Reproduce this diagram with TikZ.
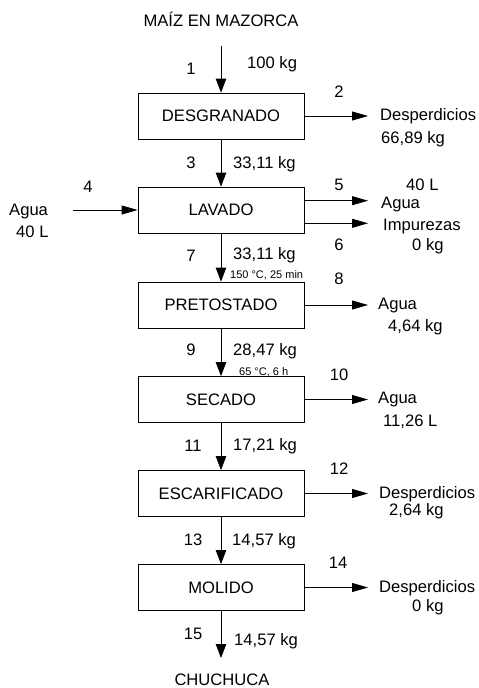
\documentclass[tikz,border=0pt]{standalone}
\usepackage{fontspec}
\setmainfont{Liberation Sans}
\usetikzlibrary{arrows.meta}
\newcommand{\mainsize}{\fontsize{16.6}{19}\selectfont}
\newcommand{\smallsize}{\fontsize{11}{13}\selectfont}
\begin{document}
\begin{tikzpicture}[x=1pt,y=-1pt,
  proc/.style={draw, line width=0.8pt, minimum width=166pt, minimum height=46pt,
               inner sep=0pt, font=\mainsize},
  lbl/.style={inner sep=0pt, anchor=base west, font=\mainsize},
  num/.style={inner sep=0pt, anchor=base, font=\mainsize},
  cond/.style={inner sep=0pt, anchor=base west, font=\smallsize},
  flow/.style={line width=0.8pt, -{Triangle[length=14pt,width=10.5pt]}},
  side/.style={line width=0.8pt, -{Triangle[length=16pt,width=9pt]}}]
\useasboundingbox (0,0) rectangle (479,688);

% process steps
\node[proc] (des) at (221,116)   {DESGRANADO};
\node[proc] (lav) at (221,210)   {LAVADO};
\node[proc] (pre) at (221,305)   {PRETOSTADO};
\node[proc] (sec) at (221,399.5) {SECADO};
\node[proc] (esc) at (221,493.5) {ESCARIFICADO};
\node[proc] (mol) at (221,587.5) {MOLIDO};

% free ends of the streams
\coordinate (in1)  at (221,46);
\coordinate (out2) at (368,116);
\coordinate (in4)  at (73,210);
\coordinate (out5) at (368,200.7);
\coordinate (out6) at (368,223.3);
\coordinate (out8) at (368,305);
\coordinate (out10) at (368,399.5);
\coordinate (out12) at (368,493.5);
\coordinate (out14) at (368,587.5);
\coordinate (out15) at (221,658);

% main line
\draw[flow] (in1) -- (des.north);
\draw[flow] (des.south) -- (lav.north);
\draw[flow] (lav.south) -- (pre.north);
\draw[flow] (pre.south) -- (sec.north);
\draw[flow] (sec.south) -- (esc.north);
\draw[flow] (esc.south) -- (mol.north);
\draw[flow] (mol.south) -- (out15);

% side streams
\draw[side] (des.east) -- (out2);
\draw[side] (in4) -- (lav.west);
\draw[side] (out5 -| lav.east) -- (out5);
\draw[side] (out6 -| lav.east) -- (out6);
\draw[side] (pre.east) -- (out8);
\draw[side] (sec.east) -- (out10);
\draw[side] (esc.east) -- (out12);
\draw[side] (mol.east) -- (out14);

% raw material and product
\node[num] (tin)  at (221,26.7)  {MAÍZ EN MAZORCA};
\node[num] (tout) at (222,685.7) {CHUCHUCA};

% stream numbers
\node[num] (n1)  at (191,74.7)  {1};
\node[num] (n2)  at (339,97)    {2};
\node[num] (n3)  at (191,168)   {3};
\node[num] (n4)  at (88,192)    {4};
\node[num] (n5)  at (339,190.7) {5};
\node[num] (n6)  at (339,250)   {6};
\node[num] (n7)  at (191,261.7) {7};
\node[num] (n8)  at (339,284)   {8};
\node[num] (n9)  at (191,355)   {9};
\node[num] (n10) at (339,380)   {10};
\node[num] (n11) at (193,451.7) {11};
\node[num] (n12) at (339,474)   {12};
\node[num] (n13) at (193,545)   {13};
\node[num] (n14) at (338,568.3) {14};
\node[num] (n15) at (193,639)   {15};

% quantities on the main line
\node[lbl] (q1)  at (247,68.5)  {100 kg};
\node[lbl] (q3)  at (233,168)   {33,11 kg};
\node[lbl] (q7)  at (233,259)   {33,11 kg};
\node[cond] (c7) at (230,278.3) {150 °C, 25 min};
\node[lbl] (q9)  at (233,355)   {28,47 kg};
\node[cond] (c9) at (239,375.5) {65 °C, 6 h};
\node[lbl] (q11) at (233,450.7) {17,21 kg};
\node[lbl] (q13) at (232,545)   {14,57 kg};
\node[lbl] (q15) at (234,645.7) {14,57 kg};

% side stream contents
\node[lbl] (s2a)  at (380,120.7) {Desperdicios};
\node[lbl] (s2b)  at (381,143)   {66,89 kg};
\node[lbl] (s4a)  at (9,215)     {Agua};
\node[lbl] (s4b)  at (16,237)    {40 L};
\node[lbl] (s5b)  at (406,190.7) {40 L};
\node[lbl] (s5a)  at (381,208.3) {Agua};
\node[lbl] (s6a)  at (383,230)   {Impurezas};
\node[lbl] (s6b)  at (412,250.7) {0 kg};
\node[lbl] (s8a)  at (378,309)   {Agua};
\node[lbl] (s8b)  at (388,331.7) {4,64 kg};
\node[lbl] (s10a) at (378,403.3) {Agua};
\node[lbl] (s10b) at (383,426.7) {11,26 L};
\node[lbl] (s12a) at (379,498.3) {Desperdicios};
\node[lbl] (s12b) at (389,515.7) {2,64 kg};
\node[lbl] (s14a) at (379,592.3) {Desperdicios};
\node[lbl] (s14b) at (412,611)   {0 kg};
\end{tikzpicture}
\end{document}
